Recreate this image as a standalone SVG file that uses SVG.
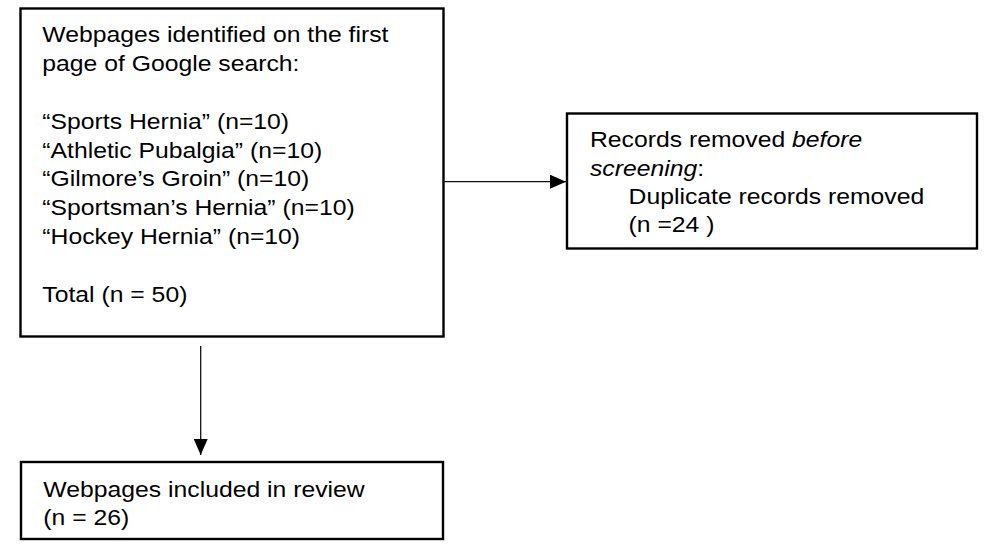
<svg xmlns="http://www.w3.org/2000/svg" width="986" height="553" viewBox="0 0 986 553">
<defs>
<style>
.box{fill:#fff;stroke:#000;stroke-width:2.4}
.t{font-family:"Liberation Sans",Arial,sans-serif;font-size:22px;fill:#000}
.conn{stroke:#111;stroke-width:1.3;fill:none}
</style>
<marker id="ah" markerUnits="userSpaceOnUse" markerWidth="17" markerHeight="15" refX="16" refY="7" orient="auto">
<path d="M0,0 L16,7 L0,14 z" fill="#000"/>
</marker>
</defs>
<rect width="986" height="553" fill="#fff"/>
<g id="connectors">
<line class="conn" x1="443" y1="181.7" x2="566" y2="181.7" marker-end="url(#ah)"/>
<line class="conn" x1="200.7" y1="346" x2="200.7" y2="455" marker-end="url(#ah)"/>
</g>
<g id="node-identified">
<rect class="box" x="20.5" y="8.5" width="423" height="328"/>
<text class="t" transform="scale(1.125 1)">
<tspan x="37.6" y="42.4">Webpages identified on the first</tspan>
<tspan x="37.6" y="71.2">page of Google search:</tspan>
<tspan x="37.6" y="128.8">“Sports Hernia” (n=10)</tspan>
<tspan x="37.6" y="157.6">“Athletic Pubalgia” (n=10)</tspan>
<tspan x="37.6" y="186.4">“Gilmore’s Groin” (n=10)</tspan>
<tspan x="37.6" y="215.2">“Sportsman’s Hernia” (n=10)</tspan>
<tspan x="37.6" y="244">“Hockey Hernia” (n=10)</tspan>
<tspan x="37.6" y="301.6">Total (n = 50)</tspan>
</text>
</g>
<g id="node-removed">
<rect class="box" x="567" y="113.5" width="410" height="135"/>
<text class="t" transform="scale(1.125 1)">
<tspan x="524.4" y="147.3">Records removed <tspan font-style="italic">before</tspan></tspan>
<tspan x="524.4" y="176.1"><tspan font-style="italic">screening</tspan>:</tspan>
<tspan x="558.7" y="204.3">Duplicate records removed</tspan>
<tspan x="558.7" y="232.5">(n =24 )</tspan>
</text>
</g>
<g id="node-included">
<rect class="box" x="21" y="462" width="422" height="77"/>
<text class="t" transform="scale(1.125 1)">
<tspan x="38.5" y="497">Webpages included in review</tspan>
<tspan x="38.5" y="525.5">(n = 26)</tspan>
</text>
</g>
</svg>
